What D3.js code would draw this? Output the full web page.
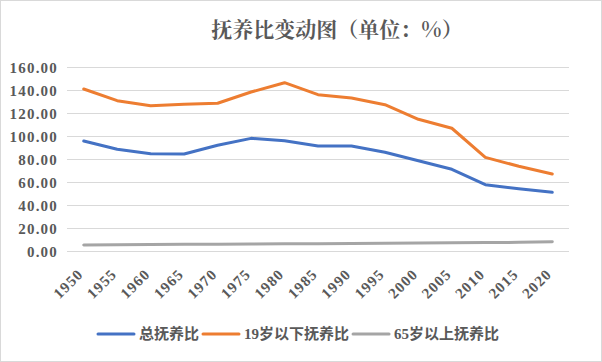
<!DOCTYPE html>
<html>
<head>
<meta charset="utf-8">
<script src="https://cdn.jsdelivr.net/npm/d3@7"></script>
<style>
  body { margin: 0; background: #fff; }
  svg { display: block; }
</style>
</head>
<body>
<svg class="chart" width="602" height="362"></svg>
<script>
const years = [1950, 1955, 1960, 1965, 1970, 1975, 1980, 1985, 1990, 1995, 2000, 2005, 2010, 2015, 2020]
const totalRatio = [95.9, 88.7, 84.9, 84.6, 92.2, 98.2, 96.2, 91.6, 91.6, 86.1, 78.8, 71.3, 57.9, 54.4, 51.3]
const youngRatio = [141.1, 131.0, 126.6, 127.8, 128.7, 138.5, 146.6, 136.2, 133.3, 127.5, 114.8, 107.0, 81.7, 73.9, 67.2]
const oldRatio = [5.5, 5.7, 5.9, 6.1, 6.2, 6.4, 6.5, 6.6, 6.7, 7.0, 7.2, 7.4, 7.6, 7.8, 8.4]
const yTicks = [0, 20, 40, 60, 80, 100, 120, 140, 160]
const seriesNames = ['总抚养比', '19岁以下抚养比', '65岁以上抚养比']
const seriesColors = ['#4472C4', '#ED7D31', '#A5A5A5']
const titleText = '抚养比变动图（单位：%）'

const series = [totalRatio, youngRatio, oldRatio].map(function(vals, i) {
  return { name: seriesNames[i], color: seriesColors[i], values: vals }
})

const textColor = '#595959'
const serif = '"Liberation Serif", "Noto Sans CJK SC", serif'

const svg = d3.select('.chart')

// outer border
svg.append('rect')
  .attr('x', 0.5).attr('y', 0.5)
  .attr('width', 601).attr('height', 361)
  .attr('fill', '#fff')
  .attr('stroke', '#d9d9d9')

// title
svg.append('text')
  .attr('x', 337)
  .attr('y', 37)
  .attr('text-anchor', 'middle')
  .style('font-family', '"Noto Serif CJK SC", "Noto Sans CJK SC", serif')
  .style('font-size', '21px')
  .style('font-weight', 'bold')
  .style('fill', textColor)
  .text(titleText)

// scales
const xSc = d3.scalePoint()
  .domain(years)
  .range([67, 569])
  .padding(0.5)

const ySc = d3.scaleLinear()
  .domain([0, 160])
  .range([251.3, 67.3])

// gridlines
svg.append('g')
  .selectAll('line')
  .data(yTicks)
  .enter()
  .append('line')
  .attr('x1', 67)
  .attr('x2', 569)
  .attr('y1', d => Math.round(ySc(d)) + 0.5)
  .attr('y2', d => Math.round(ySc(d)) + 0.5)
  .attr('stroke', '#d9d9d9')
  .attr('stroke-width', 1)

// y axis labels
svg.append('g')
  .selectAll('text')
  .data(yTicks)
  .enter()
  .append('text')
  .attr('x', 58)
  .attr('y', d => ySc(d))
  .attr('dy', '0.35em')
  .attr('text-anchor', 'end')
  .style('font-family', serif)
  .style('font-size', '15px')
  .style('letter-spacing', '1.2px')
  .style('font-weight', 'bold')
  .style('fill', textColor)
  .text(d => d3.format('.2f')(d))

// x axis labels, rotated
svg.append('g')
  .selectAll('text')
  .data(years)
  .enter()
  .append('text')
  .attr('transform', d => `translate(${xSc(d) + 0.5},${275}) rotate(-45)`)
  .attr('text-anchor', 'end')
  .style('font-family', serif)
  .style('font-size', '15px')
  .style('letter-spacing', '1.2px')
  .style('font-weight', 'bold')
  .style('fill', textColor)
  .text(d => d)

// lines
const line = d3.line()
  .x((d, i) => xSc(years[i]))
  .y(d => ySc(d))

svg.append('g')
  .selectAll('path')
  .data(series)
  .enter()
  .append('path')
  .attr('d', d => line(d.values))
  .attr('fill', 'none')
  .attr('stroke', d => d.color)
  .attr('stroke-width', 3)
  .attr('stroke-linejoin', 'round')
  .attr('stroke-linecap', 'round')

// legend
const legend = svg.append('g')
let lx = 98
const ly = 334
series.forEach(function(s) {
  legend.append('line')
    .attr('x1', lx).attr('x2', lx + 36)
    .attr('y1', ly).attr('y2', ly)
    .attr('stroke', s.color)
    .attr('stroke-width', 3)
    .attr('stroke-linecap', 'round')
  const t = legend.append('text')
    .attr('x', lx + 41)
    .attr('y', ly)
    .attr('dy', '0.35em')
    .style('font-family', serif)
    .style('font-size', '15px')
    .style('font-weight', 'bold')
    .style('fill', textColor)
    .text(s.name)
  lx += 41 + t.node().getComputedTextLength() + 4
})
</script>
</body>
</html>
